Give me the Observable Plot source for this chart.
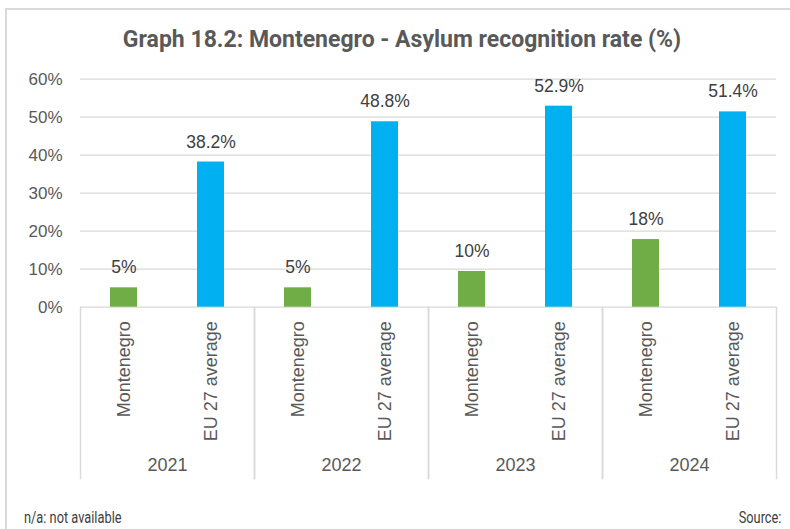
<!DOCTYPE html>
<html>
<head>
<meta charset="utf-8">
<script src="https://cdn.jsdelivr.net/npm/d3@7"></script>
<script src="https://cdn.jsdelivr.net/npm/@observablehq/plot@0.6"></script>
<style>
  html, body { margin: 0; padding: 0; background: #fff; }
  #wrap { position: relative; width: 790px; height: 529px; overflow: hidden; background: #fff; }
  #border { position: absolute; left: 5px; top: 8px; width: 900px; height: 700px; border: 2px solid #d9d9d9; box-sizing: border-box; }
  #title { position: absolute; left: 0; top: 26px; width: 804px; text-align: center; font-family: Roboto, sans-serif; font-weight: bold; font-size: 23px; color: #595959; white-space: nowrap; }
  #chart { position: absolute; left: 0; top: 0; }
  #note { position: absolute; left: 24px; top: 508px; font-family: Roboto, sans-serif; font-size: 16px; color: #404040; transform: scaleX(0.8); transform-origin: left top; white-space: nowrap; }
  #source { position: absolute; right: 9px; top: 508px; font-family: Roboto, sans-serif; font-size: 16px; color: #404040; transform: scaleX(0.8); transform-origin: right top; white-space: nowrap; }
</style>
</head>
<body>
<div id="wrap">
  <div id="border"></div>
  <div id="title">Graph 18.2: Montenegro - Asylum recognition rate (%)</div>
  <div id="chart"></div>
  <div id="note">n/a: not available</div>
  <div id="source">Source:</div>
</div>
<script>
const years = ["2021", "2022", "2023", "2024"];
const series = ["Montenegro", "EU 27 average"];
const montenegro = [5.1, 5.1, 9.4, 17.8];
const euAverage = [38.2, 48.8, 52.9, 51.4];
const montenegroLabels = ["5%", "5%", "10%", "18%"];
const euLabels = ["38.2%", "48.8%", "52.9%", "51.4%"];
const yTicks = [0, 10, 20, 30, 40, 50, 60];
const colors = ["#70ad47", "#00b0f0"];

const rows = years.flatMap((yr, i) => [
  {year: yr, series: series[0], value: montenegro[i], label: montenegroLabels[i]},
  {year: yr, series: series[1], value: euAverage[i], label: euLabels[i]}
]);

const chart = Plot.plot({
  width: 790,
  height: 480,
  marginLeft: 79,
  marginRight: 14,
  marginTop: 307,
  marginBottom: 2,
  style: {fontFamily: "'Liberation Sans', Arial, sans-serif", background: "transparent", overflow: "visible"},
  fx: {domain: years, paddingInner: 0, paddingOuter: 0, axis: null},
  x: {domain: series, paddingInner: 0.69, paddingOuter: 0.345, axis: null},
  y: {domain: [0, 60], range: [306.7, 78.7], axis: null},
  color: {domain: series, range: colors},
  marks: [
    Plot.ruleY(yTicks, {stroke: "#d9d9d9", strokeWidth: 1.3}),
    Plot.frame({anchor: "left", stroke: "#d9d9d9", strokeWidth: 1.5}),
    Plot.frame({anchor: "right", stroke: "#d9d9d9", strokeWidth: 1.5}),
    Plot.barY(rows, {fx: "year", x: "series", y: "value", fill: "series"}),
    Plot.text(rows, {fx: "year", x: "series", y: "value", text: "label", dy: -20, fontSize: 17.5, fill: "#404040"}),
    Plot.text(rows, {fx: "year", x: "series", text: "series", frameAnchor: "top", rotate: -90, textAnchor: "end", lineAnchor: "middle", dy: 13.7, fontSize: 18, fill: "#595959"}),
    Plot.text(years, {fx: d => d, text: d => d, frameAnchor: "bottom", lineAnchor: "middle", dy: -13.5, fontSize: 18, fill: "#595959"}),
    Plot.axisY(yTicks, {tickSize: 0, tickPadding: 18, tickFormat: d => d + "%", fontSize: 17, fill: "#595959", label: null})
  ]
});
document.getElementById("chart").appendChild(chart);
</script>
</body>
</html>
